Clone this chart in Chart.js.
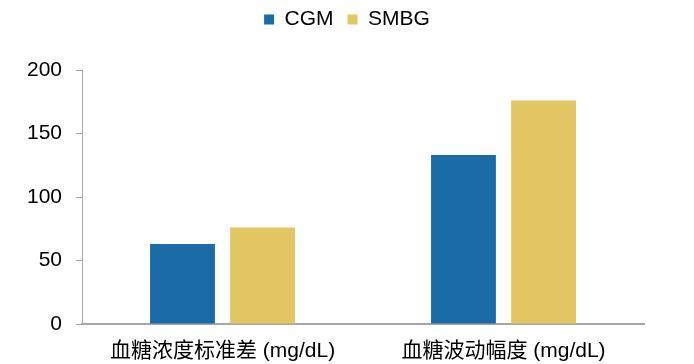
<!DOCTYPE html>
<html>
<head>
<meta charset="utf-8">
<script src="https://cdn.jsdelivr.net/npm/chart.js@4"></script>
<style>
  html, body { margin: 0; padding: 0; background: #fff; }
  #wrap { width: 694px; height: 364px; }
</style>
</head>
<body>
<div id="wrap"><canvas id="c" width="694" height="364"></canvas></div>
<script>
// Glucose variability: CGM vs SMBG
const categories = ['血糖浓度标准差 (mg/dL)', '血糖波动幅度 (mg/dL)'];
const cgmValues = [63, 133];
const smbgValues = [76, 176];
const yTicks = [0, 50, 100, 150, 200];

const FONT = "'Liberation Sans', Arial, 'Noto Sans CJK SC', sans-serif";
const AXIS_GREY = '#a6a6a6';

// extra room below the legend row, and the legend centred on the whole canvas
const legendPlacement = {
  id: 'legendPlacement',
  beforeInit(chart) {
    const fit = chart.legend.fit;
    chart.legend.fit = function () {
      fit.call(this);
      this.height += 30;
    };
  },
  afterLayout(chart) {
    const lg = chart.legend;
    const shift = (chart.width - (lg.left + lg.right)) / 2;
    lg.left += shift;
    lg.right += shift;
  }
};

new Chart(document.getElementById('c'), {
  type: 'bar',
  data: {
    labels: categories,
    datasets: [
      { label: 'CGM', data: cgmValues, backgroundColor: '#1b6ca6',
        categoryPercentage: 0.57, barPercentage: 0.81 },
      { label: 'SMBG', data: smbgValues, backgroundColor: '#e3c765',
        categoryPercentage: 0.57, barPercentage: 0.81 }
    ]
  },
  plugins: [legendPlacement],
  options: {
    responsive: false,
    animation: false,
    layout: { padding: { left: 13, right: 50, top: -5, bottom: 2 } },
    plugins: {
      tooltip: { enabled: false },
      legend: {
        position: 'top',
        labels: {
          boxWidth: 10, boxHeight: 10, padding: 14,
          color: '#000',
          font: { family: FONT, size: 21 }
        }
      }
    },
    scales: {
      x: {
        afterFit: (axis) => { axis.height = 38; },
        grid: { display: false, drawTicks: false },
        border: { display: true, color: AXIS_GREY, width: 2 },
        ticks: { color: '#000', padding: 15, maxRotation: 0, font: { family: FONT, size: 21 } }
      },
      y: {
        min: 0, max: 200,
        afterBuildTicks: (axis) => { axis.ticks = yTicks.map(v => ({ value: v })); },
        grid: { drawOnChartArea: false, drawTicks: true, tickLength: 6, color: AXIS_GREY, lineWidth: 1 },
        border: { display: true, color: AXIS_GREY, width: 1 },
        ticks: { color: '#000', padding: 14, font: { family: FONT, size: 21 } }
      }
    }
  }
});
</script>
</body>
</html>
